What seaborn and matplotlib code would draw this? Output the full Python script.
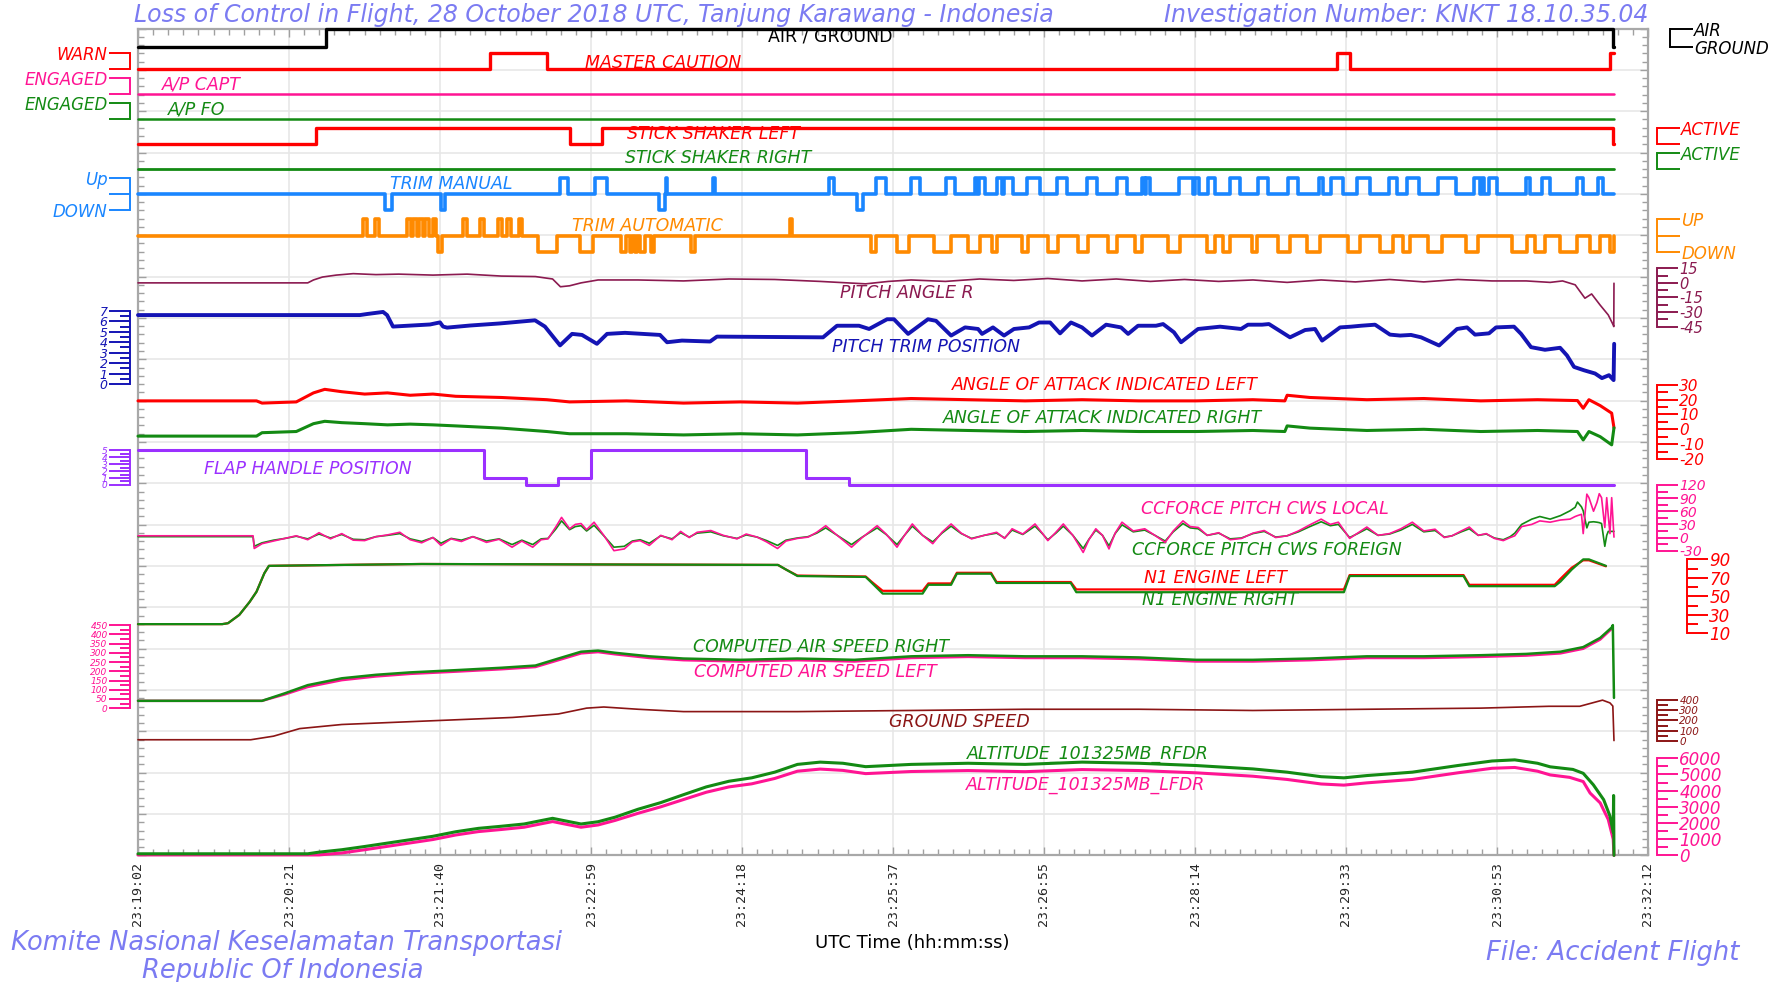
import numpy as np
import matplotlib
matplotlib.use("Agg")
import matplotlib.pyplot as plt
import seaborn as sns

sns.set_style("white")
plt.rcParams["font.family"] = ["DejaVu Sans"]

# time in seconds after 23:19:02
T_END = 772.3
time_ticks = [0, 79, 158, 237, 316, 395, 474, 553, 632, 711, 790]
time_labels = ["23:19:02", "23:20:21", "23:21:40", "23:22:59", "23:24:18", "23:25:37",
               "23:26:55", "23:28:14", "23:29:33", "23:30:53", "23:32:12"]

# discrete parameters
ag_t = [0, 98.5, 771.5, T_END]
ag_v = [0, 1, 0, 0]
mc_t = [0, 184.1, 213.9, 627.4, 634.0, 770.1, T_END]
mc_v = [0, 1, 0, 1, 0, 1, 1]
const_t = [0, T_END]
apc_v = [0, 0]
apf_v = [0, 0]
ssr_v = [0, 0]
ssl_t = [0, 93.2, 226.2, 242.5, 771.7, T_END]
ssl_v = [0, 1, 0, 1, 0, 0]
flap_t = [0, 181.1, 203.2, 219.9, 237.1, 349.7, 371.8, T_END]
flap_v = [5, 1, 0, 1, 5, 1, 0, 0]

# trim switch events (start, end) in seconds
tm_up_start = [220.8, 239.1, 276.0, 300.8, 361.5, 386.1, 404.4, 422.7, 437.9, 440.0, 449.4, 453.1,
               465.1, 480.8, 496.5, 512.2, 525.3, 527.4, 544.6, 553.0, 559.8, 571.3, 586.0, 601.7,
               617.9, 624.2, 637.8, 654.5, 663.9, 680.2, 699.0, 703.2, 706.8, 726.2, 734.6, 752.9, 763.9]
tm_up_end = [225.0, 245.4, 277.0, 301.9, 364.1, 391.3, 409.1, 427.4, 439.0, 443.1, 452.0, 457.8,
             471.9, 486.0, 501.7, 517.4, 526.9, 529.5, 552.0, 555.1, 563.5, 576.6, 591.2, 606.9,
             620.0, 630.5, 644.6, 658.7, 670.2, 689.6, 702.1, 704.2, 711.0, 728.3, 738.7, 756.0, 766.5]
tm_dn_start = [129.2, 158.5, 272.5, 376.2]
tm_dn_end = [132.9, 160.6, 275.5, 379.3]
ta_up_start = [117.7, 124.0, 140.7, 143.9, 147.0, 150.2, 154.3, 170.0, 178.9, 188.4, 193.1, 199.3, 341.1]
ta_up_end = [119.8, 126.1, 142.8, 146.0, 149.1, 152.2, 155.9, 172.1, 181.0, 190.4, 195.2, 200.9, 342.2]
ta_dn_start = [157.0, 209.3, 231.3, 252.7, 257.4, 260.0, 262.6, 268.4, 289.3, 383.5, 397.1, 416.5,
               434.3, 446.8, 462.5, 476.1, 491.8, 507.5, 521.6, 538.9, 559.3, 567.7, 582.8, 596.4,
               611.6, 633.1, 649.8, 661.8, 674.9, 694.8, 718.8, 730.9, 744.0, 759.7, 770.1]
ta_dn_end = [159.0, 219.2, 238.1, 255.3, 258.5, 261.1, 265.3, 270.0, 291.4, 386.1, 403.4, 425.4,
             440.5, 449.4, 465.6, 481.3, 497.0, 512.2, 525.3, 545.2, 563.5, 571.3, 585.4, 602.7,
             618.4, 639.3, 656.6, 665.5, 682.2, 701.1, 726.7, 736.1, 752.9, 764.9, 772.3]

# pitch angle (deg)
pa_t = [0, 88.8, 91.8, 96.5, 103.7, 112.6, 124.5, 136.4, 154.3, 172.2, 190.1, 207.9, 216.9, 221.0,
        225.8, 231.8, 240.7, 261.6, 285.4, 309.2, 333.1, 356.9, 380.7, 392.6, 404.5, 422.4, 440.3,
        458.2, 476.0, 493.9, 511.8, 529.7, 547.5, 565.4, 583.3, 601.2, 619.0, 636.9, 654.8, 672.7,
        690.5, 708.4, 726.3, 738.8, 745.3, 751.9, 757.0, 760.5, 764.9, 769.2, 771.8, 772.1, 772.2]
pa_v = [0, 0, 3, 6, 8, 9.5, 8.5, 9, 8, 9, 7, 6.5, 4, -4, -3, 0, 3, 3, 2, 4, 3.5, 1.5, -1, 1.5, 3,
        1.5, 4, 2.5, 4.5, 2, 4, 1.5, 3.5, 1.5, 3, 0.5, 3, 1, 3.5, 1, 3.5, 2, 2, 0.5, 2, -2, -15.8,
        -11.4, -22.7, -33, -43.3, -45, -0.4]

# pitch trim position (units)
pt_t = [0, 116.1, 119.8, 128.2, 130.3, 133.4, 152.8, 158.0, 159.6, 161.7, 173.7, 189.4, 207.7, 212.9,
        220.8, 227.1, 232.3, 240.1, 245.4, 254.8, 273.1, 276.8, 284.6, 299.3, 302.9, 358.4, 365.7,
        377.2, 382.5, 391.9, 395.5, 402.9, 413.3, 417.5, 425.4, 432.7, 439.5, 441.6, 447.3, 453.1,
        458.3, 466.2, 471.4, 477.2, 482.4, 488.1, 493.9, 499.1, 506.5, 514.3, 518.0, 523.2, 532.6,
        536.3, 542.0, 545.7, 554.6, 566.1, 577.1, 580.7, 588.1, 591.7, 602.7, 610.6, 615.8, 619.5,
        628.9, 634.6, 639.9, 647.2, 655.0, 660.3, 666.0, 671.3, 680.7, 690.1, 695.3, 699.5, 706.8,
        710.5, 719.9, 723.6, 728.8, 736.1, 744.0, 747.6, 751.3, 756.5, 762.3, 765.9, 769.6, 772.0, 772.3]
pt_v = [6.6, 6.6, 6.7, 6.9, 6.6, 5.5, 5.7, 5.9, 5.5, 5.4, 5.6, 5.8, 6.1, 5.5, 3.7, 4.8, 4.7, 3.85,
        4.8, 4.9, 4.7, 4.0, 4.16, 4.07, 4.54, 4.47, 5.58, 5.58, 5.27, 6.2, 6.2, 4.8, 6.2, 6.05, 4.64,
        5.42, 5.27, 4.8, 5.42, 4.64, 5.27, 5.42, 5.89, 5.89, 4.85, 5.89, 5.42, 4.64, 5.68, 5.42, 4.8,
        5.58, 5.58, 5.74, 4.95, 4.0, 5.27, 5.49, 5.27, 5.68, 5.68, 5.74, 4.47, 5.17, 5.27, 4.16, 5.42,
        5.49, 5.58, 5.68, 4.73, 4.64, 4.7, 4.47, 3.69, 5.27, 5.42, 4.73, 4.85, 5.42, 5.49, 4.8, 3.53,
        3.28, 3.47, 2.74, 1.64, 1.32, 1.01, 0.57, 0.85, 0.38, 3.85]

# angle of attack (deg)
aoa_t = [0, 62.0, 64.9, 82.8, 91.8, 97.7, 106.6, 118.6, 130.5, 142.4, 154.3, 166.2, 190.1, 213.9,
         225.8, 255.6, 285.4, 315.2, 345.0, 374.8, 404.5, 434.3, 464.1, 493.9, 523.7, 553.5, 583.3,
         600.0, 601.2, 613.1, 642.9, 672.7, 702.5, 732.2, 753.1, 756.1, 759.1, 765.0, 771.0, 772.2]
aoa_left = [19.2, 19.2, 17.7, 18.5, 24.6, 27, 25.4, 23.8, 24.6, 23, 23.8, 22.3, 21.5, 20, 18.5, 19.2,
            17.7, 18.5, 17.7, 19.2, 20.8, 20, 19.2, 20, 19.2, 19.2, 20, 19.2, 23, 21.5, 20, 20.8, 19.2,
            20, 19.4, 14.2, 20, 16, 10.9, 1]
aoa_right = [-4.6, -4.6, -2.3, -1.5, 3.8, 5.4, 4.5, 3.8, 3, 3.5, 3, 2.3, 0.8, -1.5, -3, -3, -3.8, -3,
             -3.8, -2.3, 0, -0.8, -1.5, -0.8, -1.5, -1.5, -0.8, -1.5, 2.3, 0.8, -0.8, 0, -1.5, -0.8,
             -1.5, -7.2, -1.5, -5, -10.5, 1]

# control column force (lbs)
ccf_t = [0, 60.2, 60.8, 64.9, 70.9, 76.9, 82.8, 88.8, 94.7, 100.7, 106.6, 112.6, 118.6, 124.5, 130.5,
         137.0, 142.4, 148.4, 154.3, 158.5, 163.8, 169.2, 175.2, 182.3, 188.9, 195.7, 200.8, 206.5,
         210.9, 214.5, 218.7, 221.6, 225.8, 228.8, 231.8, 234.7, 238.6, 243.7, 249.0, 254.4, 258.6,
         262.7, 267.5, 273.5, 279.4, 283.9, 288.4, 292.5, 299.7, 306.2, 313.4, 318.2, 323.9, 328.9,
         334.6, 339.0, 345.0, 350.6, 355.1, 359.8, 365.8, 373.3, 378.9, 386.7, 391.4, 397.1, 401.0,
         405.1, 410.5, 415.8, 420.6, 425.4, 430.7, 436.1, 442.7, 449.2, 453.4, 457.3, 462.9, 469.3,
         473.1, 476.0, 480.2, 484.1, 489.1, 494.5, 497.5, 501.1, 504.6, 508.0, 511.2, 514.8, 520.7,
         526.7, 532.0, 537.4, 541.6, 546.7, 550.5, 554.7, 559.4, 565.4, 571.4, 577.3, 583.3, 589.2,
         595.2, 601.2, 607.1, 613.1, 619.0, 623.8, 628.0, 633.9, 638.1, 642.9, 648.8, 654.8, 660.7,
         666.7, 672.7, 678.6, 683.4, 687.5, 692.3, 696.5, 701.2, 705.4, 709.6, 714.3, 717.9,
         720.3, 723.9, 729.2, 733.4, 738.8, 744.2, 749.2, 751.9, 753.1, 755.2, 756.1, 758.0, 759.1,
         761.5, 763.3, 764.5, 765.7, 767.4, 768.4, 769.2, 770.1, 771.0, 772.2]
ccf_local = [4, 4, -25, -14, -8, -2, 4, -5, 11, -3, 9, -6, -7, 2, 6, 12, -5, -12, 0, -18,
             -3, -9, 2, -11, -4, -22, -8, -22, -5, -3, 25, 46, 20, 30, 32, 18, 35, 5, -30, -26,
             -10, -7, -18, 5, -5, 14, 0, 12, 16, 5, -3, 8, 1, -10, -25, -8, -2, 1, 12, 27,
             5, -22, 0, 27, 8, -22, 5, 31, 5, -14, 12, 31, 10, -3, 5, 12, -2, 20, 8, 31,
             10, -7, 12, 31, 5, -34, -5, 20, 5, -26, 10, 35, 15, 20, 5, -11, 15, 38, 25, 23,
             5, 11, -5, -2, 10, 16, 0, 4, 15, 29, 42, 30, 35, -2, 10, 24, 5, 9, 20, 35,
             15, 19, 0, 4, 15, 24, 5, 9, -2, -7, 0,
             4, 25, 30, 38, 35, 40, 42, 48, 50, 53, 9, 99, 91, 60, 80, 100, 91, 23, 91, 50, 9, 91, 1]
ccf_foreign = [2, 2, -20, -12, -6, -2, 3, -3, 8, -1, 7, -4, -5, 2, 5, 9, -3, -9, 0, -13,
               -2, -6, 2, -8, -3, -16, -6, -16, -3, -2, 20, 38, 18, 25, 27, 15, 28, 4, -22, -20,
               -8, -5, -13, 4, -3, 11, 1, 10, 13, 4, -2, 6, 1, -7, -18, -6, -1, 2, 10, 22,
               5, -16, 1, 22, 7, -16, 5, 26, 5, -10, 10, 26, 9, -2, 5, 10, -1, 17, 7, 26,
               9, -5, 10, 26, 5, -25, -4, 17, 5, -19, 9, 29, 13, 17, 5, -8, 13, 32, 22, 20,
               5, 10, -3, -1, 9, 14, 1, 4, 13, 25, 36, 27, 30, 0, 9, 20, 5, 8, 17, 30,
               13, 16, 1, 4, 13, 20, 5, 8, -1, -5, 2,
               10, 30, 42, 48, 42, 50, 61, 69, 81, 70, 61, 22, 35, 36, 35, 34, 32, -20, 5, 14, 14, 14, 14]

# N1 (%)
n1_t = [0, 44.1, 47.1, 53.0, 58.4, 62.0, 66.1, 68.5, 106.6, 148.4, 334.8, 339.0, 345.0, 380.7, 383.7,
        389.6, 410.5, 413.5, 425.4, 428.4, 446.3, 449.2, 488.0, 490.9, 630.9, 633.9, 693.5, 696.5,
        741.2, 744.2, 750.1, 756.1, 759.1, 768.0]
n1_left = [20, 20, 21, 30, 44, 55, 75, 83, 84, 85, 84, 79, 72.5, 71.5, 66, 56, 56, 64, 64, 75.5, 75.5,
           65.5, 65.5, 57.5, 57.5, 73, 73, 62.5, 62.5, 69, 81, 89, 89, 82.5]
n1_right = [20, 20, 21, 30, 44, 55, 75, 83, 84, 85, 84, 79, 72, 71, 65, 53, 53, 62.5, 62.5, 74.5, 74.5,
            64.5, 64.5, 54.5, 54.5, 72, 72, 61, 61, 66, 79, 90, 90, 83]

# computed airspeed (kt)
cas_t = [0, 64.9, 76.9, 88.8, 106.6, 124.5, 142.4, 166.2, 190.1, 207.9, 219.9, 231.8, 240.7, 249.6,
         267.5, 285.4, 315.2, 345.0, 374.8, 404.5, 434.3, 464.1, 493.9, 523.7, 553.5, 583.3, 613.1,
         642.9, 672.7, 702.5, 726.3, 744.2, 756.1, 765.0, 771.0, 771.6]
cas_right = [40, 40, 81, 125, 162, 181, 194, 206, 219, 231, 269, 306, 312, 300, 281, 269, 262, 269,
             262, 281, 287, 281, 281, 275, 262, 262, 269, 281, 281, 287, 294, 306, 331, 381, 437, 450]
cas_left = [40, 40, 75, 115, 152, 172, 186, 198, 211, 223, 260, 297, 304, 292, 272, 260, 253, 260,
            253, 272, 278, 272, 272, 266, 253, 253, 260, 272, 272, 278, 285, 297, 322, 372, 430, 445]

# ground speed (kt)
gs_t = [0, 59.0, 70.9, 84.6, 106.6, 136.4, 166.2, 196.0, 219.9, 234.7, 243.7, 261.6, 285.4, 345.0,
        404.5, 464.1, 523.7, 583.3, 642.9, 702.5, 738.2, 754.3, 766.2, 770.1, 771.6, 772.2]
gs_v = [11, 11, 46, 120, 160, 183, 206, 229, 263, 320, 331, 309, 286, 286, 297, 309, 309, 297, 309,
        320, 338, 338, 398, 371, 340, 3]

# pressure altitude (ft)
alt_r_t = [0, 88.8, 94.7, 106.6, 118.6, 130.5, 142.4, 154.3, 166.2, 178.1, 190.1, 202.0, 210.9, 216.9,
           222.8, 231.8, 240.7, 249.6, 261.6, 273.5, 285.4, 297.3, 309.2, 321.1, 333.1, 345.0, 356.9,
           368.8, 380.7, 404.5, 434.3, 464.1, 493.9, 523.7, 553.5, 583.3, 601.2, 619.0, 630.9, 642.9,
           666.7, 690.5, 708.4, 720.3, 732.2, 738.8, 750.7, 756.1, 761.4, 766.8, 770.1, 771.8, 772.0, 772.2]
alt_r = [100, 100, 200, 350, 550, 760, 970, 1180, 1460, 1670, 1800, 1940, 2150, 2290, 2150, 1940, 2080,
         2360, 2850, 3260, 3750, 4230, 4580, 4790, 5140, 5620, 5760, 5690, 5480, 5620, 5690, 5620, 5760,
         5690, 5550, 5340, 5140, 4860, 4790, 4930, 5140, 5550, 5830, 5900, 5690, 5470, 5310, 5070, 4360,
         3440, 2430, 1420, 3700, 0]
alt_l_t = [0, 94.7, 106.6, 118.6, 130.5, 142.4, 154.3, 166.2, 178.1, 190.1, 202.0, 210.9, 216.9, 222.8,
           231.8, 240.7, 249.6, 261.6, 273.5, 285.4, 297.3, 309.2, 321.1, 333.1, 345.0, 356.9, 368.8,
           380.7, 404.5, 434.3, 464.1, 493.9, 523.7, 553.5, 583.3, 601.2, 619.0, 630.9, 642.9, 666.7,
           690.5, 708.4, 720.3, 732.2, 738.8, 749.0, 756.1, 759.7, 765.0, 769.2, 771.8, 772.2]
alt_l = [30, 30, 150, 350, 560, 770, 980, 1260, 1470, 1600, 1740, 1950, 2090, 1950, 1740, 1880, 2160,
         2600, 3000, 3450, 3900, 4230, 4420, 4750, 5200, 5330, 5250, 5050, 5180, 5240, 5170, 5300, 5240,
         5100, 4890, 4690, 4410, 4340, 4480, 4690, 5100, 5380, 5430, 5200, 4970, 4820, 4560, 3850, 3240,
         2220, 1000, 0]

RED, PINK, GREEN = "#FF0000", "#FF1493", "#138A13"
BLUE, ORANGE, MAROON = "#1A86FF", "#FF8A00", "#8B1A50"
NAVY, PURPLE, BROWN = "#1414B4", "#9B30FF", "#8B1515"
TITLE = "#7B7BF2"
PT = 0.72  # px -> pt at 100 dpi
NROW = 20

W, H = 1786, 982
L, R, TOP, BOT = 138, 1648, 28.5, 855.4
rect = [L / W, 1 - BOT / H, (R - L) / W, (BOT - TOP) / H]

fig = plt.figure(figsize=(W / 100, H / 100), dpi=100)
ax = fig.add_axes(rect)
ax.set_ylim(0, NROW)


def lane(lo, hi, vmin, vmax, side, color, ticks, labels, minor=None, off=8, tl=21, fs=12):
    a = fig.add_axes(rect, sharex=ax)
    a.patch.set_visible(False)
    a.xaxis.set_visible(False)
    for s in a.spines.values():
        s.set_visible(False)
    k = (vmax - vmin) / (hi - lo)
    a.set_ylim(vmin - lo * k, vmin + (NROW - lo) * k)
    sp = a.spines[side]
    sp.set_visible(True)
    sp.set_position(("outward", off * PT))
    sp.set_bounds(vmin, vmax)
    sp.set_color(color)
    sp.set_linewidth(1.4)
    a.yaxis.set_ticks_position(side)
    a.set_yticks(ticks, labels=labels, fontstyle="italic", fontsize=fs)
    if minor is not None:
        a.set_yticks(minor, minor=True)
    a.tick_params(axis="y", which="major", direction="out", length=tl * PT, width=1.4,
                  color=color, labelcolor=color, pad=1)
    a.tick_params(axis="y", which="minor", direction="out", length=tl * PT / 2, width=1.4, color=color)
    return a


def line(a, t, v, color, lw, steps=False):
    sns.lineplot(x=np.asarray(t, float), y=np.asarray(v, float), ax=a, color=color,
                 linewidth=lw, estimator=None, sort=False, errorbar=None, clip_on=False,
                 drawstyle="steps-post" if steps else "default")


def pulses(up_s, up_e, dn_s, dn_e):
    ev = sorted([(s, e, 1) for s, e in zip(up_s, up_e)] + [(s, e, -1) for s, e in zip(dn_s, dn_e)])
    t, v = [0.0], [0]
    for s, e, lvl in ev:
        t += [s, e]
        v += [lvl, 0]
    t.append(T_END)
    v.append(0)
    return t, v


def nums(vals):
    return [str(x) for x in vals]


a = lane(19.56, 20.0, 0, 1, "right", "black", [0, 1], ["GROUND", "AIR"], off=22, tl=23)
line(a, ag_t, ag_v, "black", 2.4, steps=True)
a = lane(19.01, 19.41, 0, 1, "left", RED, [0, 1], ["", "WARN"])
line(a, mc_t, mc_v, RED, 2.4, steps=True)
a = lane(18.41, 18.81, 0, 1, "left", PINK, [0, 1], ["", "ENGAGED"])
line(a, const_t, apc_v, PINK, 1.8, steps=True)
a = lane(17.81, 18.21, 0, 1, "left", GREEN, [0, 1], ["", "ENGAGED"])
line(a, const_t, apf_v, GREEN, 1.8, steps=True)
a = lane(17.20, 17.60, 0, 1, "right", RED, [0, 1], ["", "ACTIVE"], off=9, tl=23)
line(a, ssl_t, ssl_v, RED, 2.4, steps=True)
a = lane(16.60, 17.00, 0, 1, "right", GREEN, [0, 1], ["", "ACTIVE"], off=9, tl=23)
line(a, const_t, ssr_v, GREEN, 2.0, steps=True)
a = lane(15.61, 16.39, -1, 1, "left", BLUE, [-1, 0, 1], ["DOWN", "", "Up"])
line(a, *pulses(tm_up_start, tm_up_end, tm_dn_start, tm_dn_end), BLUE, 2.6, steps=True)
a = lane(14.59, 15.39, -1, 1, "right", ORANGE, [-1, 0, 1], ["DOWN", "", "UP"], off=9, tl=23)
line(a, *pulses(ta_up_start, ta_up_end, ta_dn_start, ta_dn_end), ORANGE, 2.6, steps=True)

a = lane(12.79, 14.20, -45, 15, "right", MAROON, [-45, -30, -15, 0, 15],
         ["-45", "-30", "-15", "0", "15"], minor=[-37.5, -22.5, -7.5, 7.5], off=9, fs=10.5)
line(a, pa_t, pa_v, MAROON, 1.2)
a = lane(11.40, 13.17, 0, 7, "left", NAVY, list(range(8)), nums(range(8)),
         minor=[0.5, 1.5, 2.5, 3.5, 4.5, 5.5, 6.5], fs=9)
line(a, pt_t, pt_v, NAVY, 2.8)
a = lane(9.59, 11.38, -20, 30, "right", RED, [-20, -10, 0, 10, 20, 30],
         ["-20", "-10", "0", "10", "20", "30"], minor=[-15, -5, 5, 15, 25], off=9, fs=11)
line(a, aoa_t, aoa_left, RED, 2.2)
line(a, aoa_t, aoa_right, GREEN, 2.2)
a = lane(8.96, 9.80, 0, 5, "left", PURPLE, list(range(6)), nums(range(6)),
         minor=[0.5, 1.5, 2.5, 3.5, 4.5], fs=6.5)
line(a, flap_t, flap_v, PURPLE, 2.2, steps=True)
a = lane(7.37, 8.96, -30, 120, "right", PINK, [-30, 0, 30, 60, 90, 120],
         ["-30", "0", "30", "60", "90", "120"], minor=[-15, 15, 45, 75, 105], off=9, fs=10)
line(a, ccf_t, ccf_foreign, GREEN, 1.2)
line(a, ccf_t, ccf_local, PINK, 1.2)
a = lane(5.37, 7.16, 10, 90, "right", RED, [10, 30, 50, 70, 90], nums([10, 30, 50, 70, 90]),
         minor=[20, 40, 60, 80], off=39)
line(a, n1_t, n1_left, RED, 1.6)
line(a, n1_t, n1_right, GREEN, 1.6)
a = lane(3.56, 5.57, 0, 450, "left", PINK, list(range(0, 451, 50)), nums(range(0, 451, 50)),
         minor=list(range(25, 450, 50)), fs=6.5)
line(a, cas_t, cas_left, PINK, 1.8)
line(a, cas_t + [772.2], cas_right + [56], GREEN, 1.8)
a = lane(2.77, 3.76, 0, 400, "right", BROWN, [0, 100, 200, 300, 400], nums([0, 100, 200, 300, 400]),
         minor=[50, 150, 250, 350], off=9, fs=7.5)
line(a, gs_t, gs_v, BROWN, 1.2)
a = lane(0.0, 2.35, 0, 6000, "right", PINK, list(range(0, 6001, 1000)), nums(range(0, 6001, 1000)),
         minor=list(range(500, 6000, 1000)), off=9)
line(a, alt_l_t, alt_l, PINK, 2.2)
line(a, alt_r_t, alt_r, GREEN, 2.2)

# main frame, grid and time axis
ax.set_xlim(0, 790)
ax.set_xticks(time_ticks, labels=time_labels, rotation=90, fontfamily="DejaVu Sans Mono", fontsize=9.5)
ax.set_xticks(np.arange(0, 790.1, 7.9), minor=True)
ax.set_yticks(range(NROW + 1))
ax.set_yticks(np.arange(0, NROW + 0.01, 0.2), minor=True)
ax.grid(True, which="major", color="#E6E6E6", linewidth=1.1)
ax.tick_params(which="both", direction="in", top=True, right=True, left=True, bottom=True,
               labelleft=False, color="#A0A0A0")
ax.tick_params(which="major", length=6, width=1)
ax.tick_params(which="minor", length=4, width=1)
ax.tick_params(axis="x", pad=5)
for s in ax.spines.values():
    s.set_color("#A8A8A8")
    s.set_linewidth(1.6)

trace_labels = [
    ("AIR / GROUND", 362, 19.81, "black", "center", "normal"),
    ("MASTER CAUTION", 274.7, 19.17, RED, "center", "italic"),
    ("A/P CAPT", 12.5, 18.65, PINK, "left", "italic"),
    ("A/P FO", 15.5, 18.04, GREEN, "left", "italic"),
    ("STICK SHAKER LEFT", 300.9, 17.44, RED, "center", "italic"),
    ("STICK SHAKER RIGHT", 303.3, 16.86, GREEN, "center", "italic"),
    ("TRIM MANUAL", 163.8, 16.25, BLUE, "center", "italic"),
    ("TRIM AUTOMATIC", 266.3, 15.23, ORANGE, "center", "italic"),
    ("PITCH ANGLE R", 402.2, 13.61, MAROON, "center", "italic"),
    ("PITCH TRIM POSITION", 412.3, 12.29, NAVY, "center", "italic"),
    ("ANGLE OF ATTACK INDICATED LEFT", 505.8, 11.38, RED, "center", "italic"),
    ("ANGLE OF ATTACK INDICATED RIGHT", 504.6, 10.58, GREEN, "center", "italic"),
    ("FLAP HANDLE POSITION", 88.8, 9.34, PURPLE, "center", "italic"),
    ("CCFORCE PITCH CWS LOCAL", 589.8, 8.37, PINK, "center", "italic"),
    ("CCFORCE PITCH CWS FOREIGN", 590.4, 7.38, GREEN, "center", "italic"),
    ("N1 ENGINE LEFT", 563.6, 6.70, RED, "center", "italic"),
    ("N1 ENGINE RIGHT", 566.0, 6.18, GREEN, "center", "italic"),
    ("COMPUTED AIR SPEED RIGHT", 357.5, 5.04, GREEN, "center", "italic"),
    ("COMPUTED AIR SPEED LEFT", 354.5, 4.44, PINK, "center", "italic"),
    ("GROUND SPEED", 429.6, 3.22, BROWN, "center", "italic"),
    ("ALTITUDE_101325MB_RFDR", 496.9, 2.45, GREEN, "center", "italic"),
    ("ALTITUDE_101325MB_LFDR", 495.7, 1.71, PINK, "center", "italic"),
]
for txt, tx, ty, c, ha, st in trace_labels:
    ax.text(tx, ty, txt, color=c, ha=ha, va="center", fontsize=12.5, fontstyle=st)


def ftext(x, y, s, **kw):
    fig.text(x / W, 1 - y / H, s, va="center", **kw)


ftext(134, 15, "Loss of Control in Flight, 28 October 2018 UTC, Tanjung Karawang - Indonesia",
      color=TITLE, fontsize=17, fontstyle="italic", ha="left")
ftext(1648, 15, "Investigation Number: KNKT 18.10.35.04", color=TITLE, fontsize=17,
      fontstyle="italic", ha="right")
ftext(11, 943, "Komite Nasional Keselamatan Transportasi", color=TITLE, fontsize=18.5,
      fontstyle="italic", ha="left")
ftext(142, 971, "Republic Of Indonesia", color=TITLE, fontsize=18.5, fontstyle="italic", ha="left")
ftext(1486, 953, "File: Accident Flight", color=TITLE, fontsize=18.5, fontstyle="italic", ha="left")
ftext(912, 943, "UTC Time (hh:mm:ss)", color="black", fontsize=13, ha="center")

fig.savefig("out.png", dpi=100)
